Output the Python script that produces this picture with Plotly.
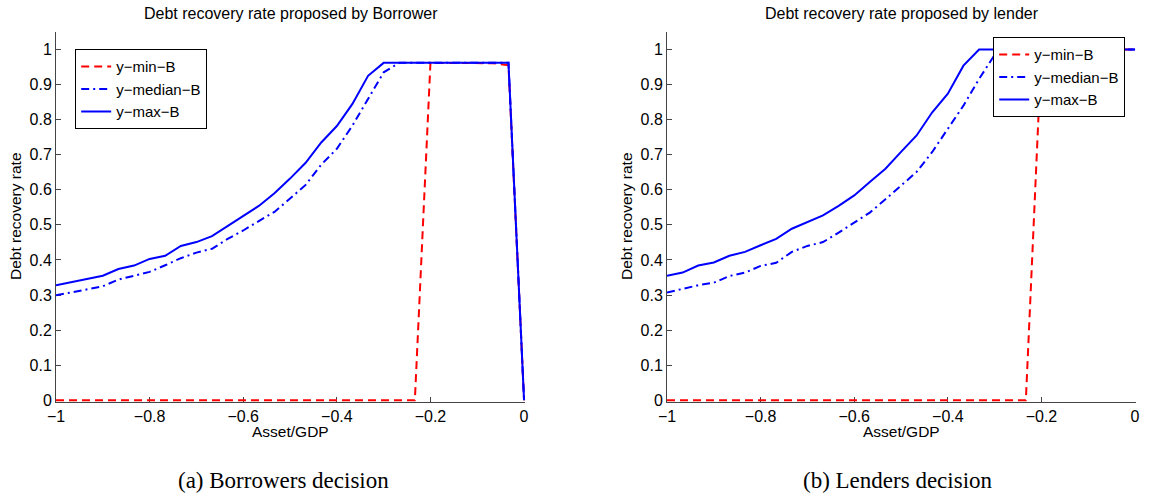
import plotly.graph_objects as go

# Shared x grid (Asset/GDP)
x_grid = [-1.0, -0.9667, -0.9333, -0.9, -0.8667, -0.8333, -0.8, -0.7667, -0.7333, -0.7,
          -0.6667, -0.6333, -0.6, -0.5667, -0.5333, -0.5, -0.4667, -0.4333, -0.4, -0.3667,
          -0.3333, -0.3, -0.2667, -0.2333, -0.2, -0.1667, -0.1333, -0.1, -0.0667, -0.0333, 0.0]

# Borrower panel
b_min = [0, 0, 0, 0, 0, 0, 0, 0, 0, 0,
         0, 0, 0, 0, 0, 0, 0, 0, 0, 0,
         0, 0, 0, 0, 0.962, 0.962, 0.962, 0.962, 0.961, 0.955, 0]
b_median = [0.299, 0.308, 0.316, 0.325, 0.344, 0.355, 0.366, 0.385, 0.405, 0.421,
            0.432, 0.46, 0.484, 0.511, 0.537, 0.575, 0.614, 0.672, 0.717, 0.783,
            0.859, 0.935, 0.962, 0.962, 0.962, 0.962, 0.962, 0.962, 0.962, 0.962, 0]
b_max = [0.328, 0.337, 0.346, 0.355, 0.374, 0.384, 0.403, 0.412, 0.44, 0.451,
         0.468, 0.497, 0.524, 0.554, 0.59, 0.632, 0.677, 0.735, 0.782, 0.845,
         0.925, 0.962, 0.962, 0.962, 0.962, 0.962, 0.962, 0.962, 0.962, 0.962, 0]

# Lender panel
l_min = [0, 0, 0, 0, 0, 0, 0, 0, 0, 0,
         0, 0, 0, 0, 0, 0, 0, 0, 0, 0,
         0, 0, 0, 0, 1, 1, 1, 1, 1, 1, 1]
l_median = [0.307, 0.318, 0.328, 0.335, 0.354, 0.364, 0.383, 0.392, 0.423, 0.44,
            0.451, 0.478, 0.506, 0.535, 0.573, 0.611, 0.651, 0.708, 0.774, 0.84,
            0.916, 0.985, 1, 1, 1, 1, 1, 1, 1, 1, 1]
l_max = [0.355, 0.364, 0.384, 0.393, 0.412, 0.423, 0.442, 0.46, 0.489, 0.508,
         0.527, 0.554, 0.584, 0.622, 0.66, 0.708, 0.755, 0.821, 0.874, 0.954,
         1, 1, 1, 1, 1, 1, 1, 1, 1, 1, 1]

series_names = ["y−min−B", "y−median−B", "y−max−B"]
x_ticks = [-1, -0.8, -0.6, -0.4, -0.2, 0]
y_ticks = [0, 0.1, 0.2, 0.3, 0.4, 0.5, 0.6, 0.7, 0.8, 0.9, 1]
titles = ["Debt recovery rate proposed by Borrower", "Debt recovery rate proposed by lender"]
captions = ["(a) Borrowers decision", "(b) Lenders decision"]

RED = "#ff0000"
BLUE = "#0000ff"
styles = [(RED, "8px,5px"), (BLUE, "8px,4px,2px,4px"), (BLUE, "solid")]

W, H = 1150, 500
fig = go.Figure()

panels = [
    (b_min, b_median, b_max, "x", "y", "legend"),
    (l_min, l_median, l_max, "x2", "y2", "legend2"),
]
for ys_min, ys_med, ys_max, xa, ya, lg in panels:
    for ys, name, (col, dash) in zip([ys_min, ys_med, ys_max], series_names, styles):
        fig.add_trace(go.Scatter(
            x=x_grid, y=ys, mode="lines", name=name,
            line=dict(color=col, dash=dash, width=2),
            xaxis=xa, yaxis=ya, legend=lg, cliponaxis=False,
        ))

SANS = "Liberation Sans, Arial, sans-serif"
axis_font = dict(family=SANS, size=16, color="black")
common_x = dict(range=[-1, 0.002], tickvals=x_ticks, ticks="inside", ticklen=5, tickcolor="#444",
                showline=True, linecolor="#444", linewidth=1, showgrid=False, zeroline=False,
                tickfont=axis_font, automargin=False, layer="below traces")
common_y = dict(range=[-0.005, 1.05], tickvals=y_ticks, ticks="inside", ticklen=5, tickcolor="#444",
                showline=True, linecolor="#444", linewidth=1, showgrid=False, zeroline=False,
                tickfont=axis_font, automargin=False, layer="below traces")

dx1 = [56 / W, 525 / W]
dx2 = [667 / W, 1136 / W]
dy = [1 - 402 / H, 1 - 32 / H]

leg_common = dict(bgcolor="white", bordercolor="black", borderwidth=1.2,
                  font=dict(family=SANS, size=15, color="black"),
                  xref="paper", yref="paper", xanchor="left", yanchor="top",
                  tracegroupgap=0, itemwidth=30)

fig.update_layout(
    width=W, height=H,
    margin=dict(l=0, r=0, t=0, b=0),
    paper_bgcolor="white", plot_bgcolor="white",
    showlegend=True,
    xaxis=dict(domain=dx1, anchor="y", **common_x),
    yaxis=dict(domain=dy, anchor="x", **common_y),
    xaxis2=dict(domain=dx2, anchor="y2", **common_x),
    yaxis2=dict(domain=dy, anchor="x2", **common_y),
    legend=dict(x=75 / W, y=1 - 49 / H, **leg_common),
    legend2=dict(x=993 / W, y=1 - 37 / H, **leg_common),
)

title_font = dict(family=SANS, size=16, color="black")
lab_font = dict(family=SANS, size=15.5, color="black")
cap_font = dict(family="Liberation Serif, Times New Roman, serif", size=23, color="black")
annos = []
for dx, title, cap, ytx, capx in [(dx1, titles[0], captions[0], 16, 283),
                                  (dx2, titles[1], captions[1], 627, 898)]:
    cx = (dx[0] + dx[1]) / 2
    annos.append(dict(text=title, x=cx, y=1 - 13 / H, xref="paper", yref="paper",
                      showarrow=False, font=title_font, xanchor="center", yanchor="middle"))
    annos.append(dict(text="Asset/GDP", x=cx, y=1 - 431 / H, xref="paper", yref="paper",
                      showarrow=False, font=lab_font, xanchor="center", yanchor="middle"))
    annos.append(dict(text="Debt recovery rate", x=ytx / W, y=1 - 216 / H, xref="paper", yref="paper",
                      showarrow=False, font=lab_font, textangle=-90, xanchor="center", yanchor="middle"))
    annos.append(dict(text=cap, x=capx / W, y=1 - 480 / H, xref="paper", yref="paper",
                      showarrow=False, font=cap_font, xanchor="center", yanchor="middle"))
fig.update_layout(annotations=annos)

fig.write_html(
    "out.html",
    config={"displayModeBar": False},
    post_script="document.body.style.margin='0';document.body.style.overflow='hidden';",
)
